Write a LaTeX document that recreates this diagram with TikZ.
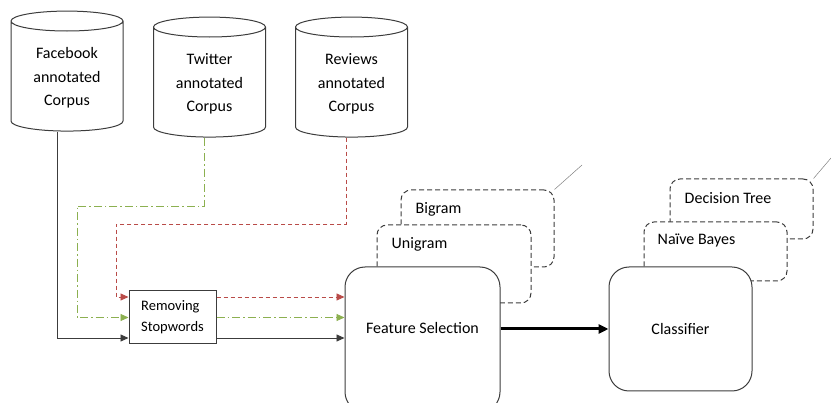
\documentclass[tikz,border=0pt]{standalone}
\usepackage{fontspec}
\setmainfont{Carlito}
\usetikzlibrary{arrows.meta,positioning,shapes.geometric}
\definecolor{flowred}{RGB}{185,75,72}
\definecolor{flowgreen}{RGB}{140,176,80}
\definecolor{edge}{RGB}{60,60,60}

\begin{document}
\begin{tikzpicture}[
    x=1pt, y=-1pt,
    txt/.style={font=\fontsize{16}{23.5}\selectfont},
    cyl/.style={cylinder, shape border rotate=90, aspect=0.27, draw=edge, line width=1pt,
        minimum width=112pt, minimum height=120pt, align=center, txt},
    stepbox/.style={rectangle, draw=edge, line width=1pt, fill=white, minimum width=87pt,
        minimum height=53pt, align=left, font=\fontsize{14.5}{21}\selectfont},
    proc/.style={rectangle, rounded corners=20pt, draw=edge, line width=1pt, fill=white, txt},
    alt/.style={rectangle, rounded corners=10pt, draw=edge, line width=1pt, fill=white,
        dash pattern=on 5pt off 3pt},
    tag/.style={anchor=west, inner sep=0pt, txt},
    arrow/.style={-{Triangle[length=8pt,width=7pt]}, line width=0.9pt},
    redflow/.style={arrow, flowred, dash pattern=on 4pt off 3pt},
    greenflow/.style={arrow, flowgreen, dash pattern=on 8pt off 3pt on 1.5pt off 3pt},
    callout/.style={gray, line width=0.5pt}
]
    \useasboundingbox (0,0) rectangle (831,403);

    % corpora
    \node[cyl] (fb) at (67,78) {Facebook\\annotated\\Corpus};
    \node[cyl] (tw) at (209.5,84) {Twitter\\annotated\\Corpus};
    \node[cyl] (rv) at (351.5,84) {Reviews\\annotated\\Corpus};

    \node[stepbox] (rs) at (172.5,317.5) {Removing\\Stopwords};

    % feature sets
    \node[alt, minimum width=153pt, minimum height=77pt] (bg) at (477.5,228.5) {};
    \node[tag] (bgt) at ([xshift=15pt,yshift=-20pt]bg.north west) {Bigram};
    \node[alt, minimum width=154pt, minimum height=78pt] (ug) at (454,264) {};
    \node[tag] (ugt) at ([xshift=15pt,yshift=-20pt]ug.north west) {Unigram};
    \node[proc, minimum width=155pt, minimum height=145pt] (fs) at (422.5,339.5) {};
    \node[txt] (fst) at (422.5,328) {Feature Selection};

    % classifiers
    \node[alt, minimum width=143pt, minimum height=60pt] (dt) at (741.5,209) {};
    \node[tag] (dtt) at ([xshift=15pt,yshift=-20pt]dt.north west) {Decision Tree};
    \node[alt, minimum width=143pt, minimum height=59pt] (nb) at (715.5,251.5) {};
    \node[tag] (nbt) at ([xshift=14pt,yshift=-19pt]nb.north west) {Naïve Bayes};
    \node[proc, minimum width=143pt, minimum height=124pt] (cl) at (680.5,329) {Classifier};

    \coordinate (bgc) at (582,165);
    \coordinate (dtc) at (831,158);
    \draw[callout] (bg.north east) -- (bgc);
    \draw[callout] (dt.north east) -- (dtc);

    % inputs
    \coordinate (gcorner) at (77,206);
    \coordinate (rcorner) at (116,224);
    \draw[arrow, edge] ([xshift=-10pt]fb.bottom) |- ([yshift=-20.5pt]rs.west);
    \draw[greenflow] ([xshift=-5.5pt]tw.bottom) |- (gcorner) |- (rs.west);
    \draw[redflow] ([xshift=-5.5pt]rv.bottom) |- (rcorner) |- ([yshift=20.5pt]rs.west);

    \draw[redflow] ([yshift=20.5pt]rs.east) -- ([yshift=20.5pt]rs.east -| fs.west);
    \draw[greenflow] (rs.east) -- (rs.east -| fs.west);
    \draw[arrow, edge] ([yshift=-20.5pt]rs.east) -- ([yshift=-20.5pt]rs.east -| fs.west);

    \draw[-{Triangle[length=10pt,width=9pt]}, line width=3pt] (fs.east |- cl.west) -- (cl.west);
\end{tikzpicture}
\end{document}
